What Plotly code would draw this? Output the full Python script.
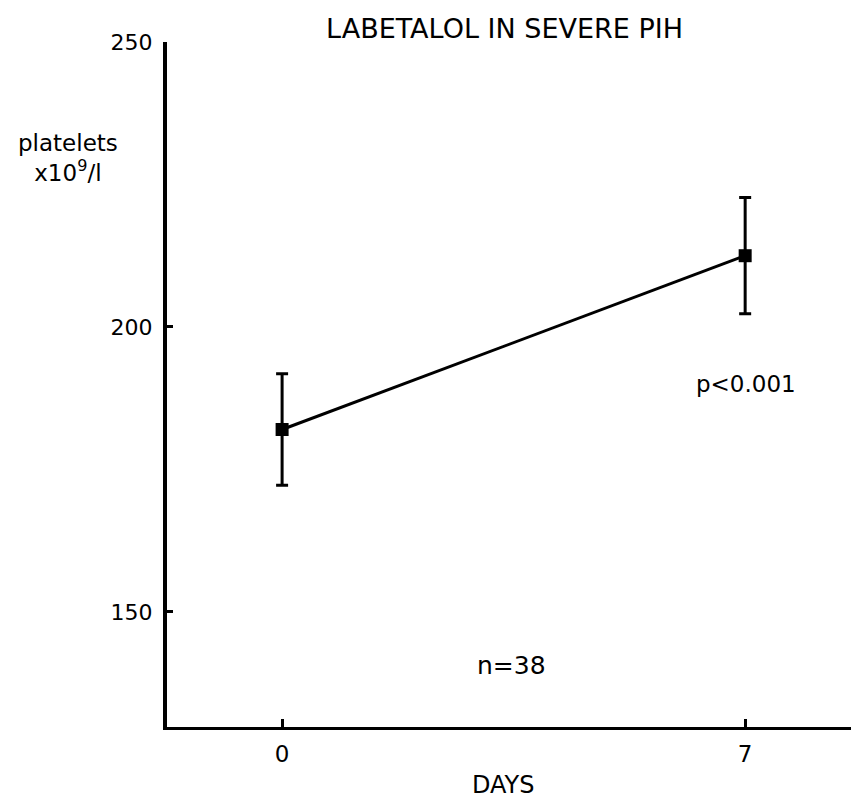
import plotly.graph_objects as go

# Platelet counts before and after a week of labetalol
days = [0, 7]
platelets = [182.0, 212.5]
sem = [9.8, 10.2]

x_ticks = [0, 7]
y_ticks = [150, 200, 250]

W, H = 851, 799
L, R, T, B = 167, 0, 42, 72
FONT = "DejaVu Sans, Liberation Sans, Arial, sans-serif"


def paper(px, py):
    """Convert a page pixel position to paper coordinates."""
    pw = W - L - R
    ph = H - T - B
    return (px - L) / pw, 1 - (py - T) / ph


fig = go.Figure()
fig.add_trace(go.Scatter(
    x=days, y=platelets,
    mode="lines+markers",
    line=dict(color="black", width=3),
    marker=dict(symbol="square", size=13, color="black"),
    error_y=dict(type="data", array=sem, visible=True,
                 color="black", thickness=3, width=6),
    showlegend=False,
    cliponaxis=False,
))

labels = [
    ("LABETALOL IN SEVERE PIH", 504, 28, 27),
    ("platelets<br>x10<sup>9</sup>/l", 68, 158, 23),
    ("p<0.001", 746, 384, 23),
    ("n=38", 511, 665, 25),
    ("DAYS", 503, 785, 24),
]
for text, px, py, size in labels:
    ax, ay = paper(px, py)
    fig.add_annotation(text=text, x=ax, y=ay, xref="paper", yref="paper",
                       showarrow=False, xanchor="center", yanchor="middle",
                       align="center", borderpad=0,
                       font=dict(family=FONT, size=size, color="black"))

fig.update_xaxes(
    range=[-1.74, 8.6], tickvals=x_ticks, ticktext=[str(v) for v in x_ticks],
    showgrid=False, zeroline=False, showline=True, linecolor="black", linewidth=3,
    ticks="inside", ticklen=8, tickwidth=3, tickcolor="black",
    ticklabelstandoff=4,
    tickfont=dict(family=FONT, size=23, color="black"),
)
fig.update_yaxes(
    range=[129.8, 250], tickvals=y_ticks, ticktext=[str(v) for v in y_ticks],
    showgrid=False, zeroline=False, showline=True, linecolor="black", linewidth=4,
    ticks="inside", ticklen=6, tickwidth=3, tickcolor="black",
    ticklabelstandoff=6,
    tickfont=dict(family=FONT, size=22, color="black"),
)
fig.update_layout(
    width=W, height=H,
    margin=dict(l=L, r=R, t=T, b=B),
    paper_bgcolor="white", plot_bgcolor="white",
)

fig.write_html("out.html")
